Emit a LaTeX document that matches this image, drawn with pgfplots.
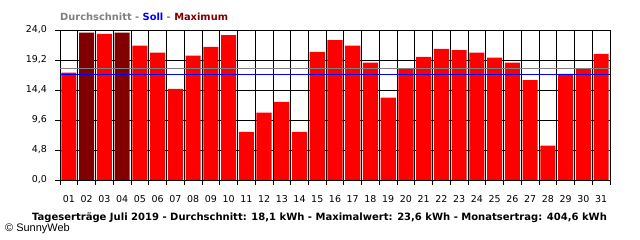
\documentclass[border=0pt]{standalone}
\usepackage{pgfplots}
\pgfplotsset{compat=1.18}
\usepackage{pgfplotstable}
\usepackage{fontspec}
\setmainfont{Liberation Sans}
\newfontfamily\dvs{DejaVu Sans}
\definecolor{barred}{RGB}{255,0,0}
\definecolor{maxred}{RGB}{128,0,0}
\definecolor{avggray}{RGB}{128,128,128}
\definecolor{sollblue}{RGB}{0,0,255}
\pgfplotstableread{
day val
1 17.2
3 23.4
5 21.5
6 20.4
7 14.6
8 19.9
9 21.3
10 23.2
11 7.7
12 10.8
13 12.5
14 7.7
15 20.5
16 22.4
17 21.5
18 18.8
19 13.2
20 17.9
21 19.7
22 21.0
23 20.8
24 20.4
25 19.6
26 18.8
27 16.0
28 5.5
29 17.0
30 17.9
31 20.2
}\normaldays
\pgfplotstableread{
day val
2 23.6
4 23.6
}\maxdays
\begin{document}
\begin{tikzpicture}
\useasboundingbox (0,0) rectangle (640bp,240bp);
\begin{axis}[
  at={(60bp,60bp)}, anchor=south west,
  scale only axis, width=550bp, height=150bp,
  xmin=0.5, xmax=31.5, ymin=0, ymax=24,
  ybar, bar width=0.85, bar shift=0pt,
  xtick={1,...,31},
  xticklabels={01,02,03,04,05,06,07,08,09,10,11,12,13,14,15,16,17,18,19,20,21,22,23,24,25,26,27,28,29,30,31},
  minor xtick={0.5,1.5,...,31.5},
  xminorgrids, ymajorgrids,
  grid style={black, line width=0.8bp},
  minor grid style={black, line width=0.8bp},
  ytick={0,4.8,9.6,14.4,19.2,24},
  yticklabel style={xshift=-4.5bp, /pgf/number format/.cd, fixed, fixed zerofill, precision=1, use comma},
  /pgf/number format/assume math mode=true,
  tick align=outside,
  xtick pos=bottom, ytick pos=left,
  major tick length=5bp, minor tick length=5bp,
  major x tick style={draw=none},
  tick style={black, line width=0.8bp},
  axis line style={black, line width=0.8bp},
  ticklabel style={font=\dvs\fontsize{9.5}{11}\selectfont},
  xticklabel style={yshift=-7bp},
]
\addplot[fill=barred, draw=none] table[x=day, y=val] {\normaldays};
\addplot[fill=maxred, draw=none] table[x=day, y=val] {\maxdays};
\addplot[sharp plot, avggray, line width=1.2bp] coordinates {(0.5,17.9) (31.5,17.9)};
\addplot[sharp plot, sollblue, line width=1.2bp] coordinates {(0.5,16.9) (31.5,16.9)};
\end{axis}
\node[anchor=west, inner sep=0, font=\dvs\bfseries\fontsize{9.9}{12}\selectfont] at (60bp,223bp) {\color{avggray}Durchschnitt - {\color{sollblue}Soll} - {\color{maxred}Maximum}};
\node[inner sep=0, font=\dvs\bfseries\fontsize{10.05}{12}\selectfont] at (319.5bp,22bp) {Tageserträge Juli 2019 - Durchschnitt: 18,1 kWh - Maximalwert: 23,6 kWh - Monatsertrag: 404,6 kWh};
\node[anchor=west, inner sep=0, font=\fontsize{11}{12}\selectfont] at (5bp,11bp) {© SunnyWeb};
\end{tikzpicture}
\end{document}
